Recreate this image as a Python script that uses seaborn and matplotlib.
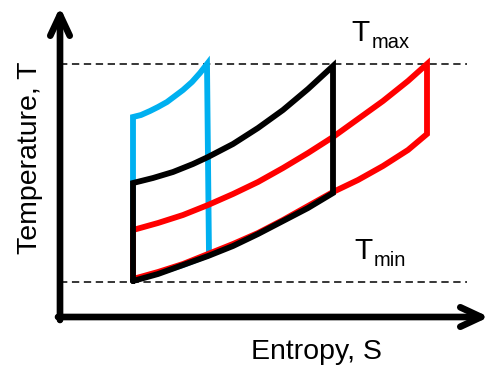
import matplotlib
matplotlib.use("Agg")
import matplotlib.pyplot as plt
import seaborn as sns

# Cycle outlines (entropy S, temperature T, arbitrary units)
blue_s = [133, 133, 141, 150, 158, 167, 175, 183, 192, 200, 207,
          209, 183, 158, 133]
blue_t = [89, 252, 254, 258, 262, 267, 273, 279, 287, 296, 305,
          114, 104, 96, 89]

black_s = [133, 133, 153, 173, 193, 208, 233, 258, 283, 308, 333,
           333, 308, 283, 258, 233, 208, 183, 158, 133]
black_t = [88, 186, 191, 197, 205, 212, 225, 241, 259, 280, 303,
           176, 161, 148, 135, 123, 113, 104, 95, 88]

red_s = [133, 133, 158, 183, 208, 233, 258, 283, 308, 333, 358, 383, 408, 427,
         427, 408, 383, 358, 333, 308, 283, 258, 233, 208, 183, 158, 133]
red_t = [90, 139, 146, 154, 164, 175, 187, 201, 216, 232, 250, 268, 288, 305,
         235, 219, 203, 189, 177, 163, 149, 136, 125, 115, 105, 97, 90]

t_max = 305
t_min = 87

sns.set_style("white")
plt.rcParams['font.family'] = ['Liberation Sans', 'DejaVu Sans']
plt.rcParams['text.color'] = 'black'

fig = plt.figure(figsize=(4.91, 3.69), dpi=100)
ax = fig.add_axes([0, 0, 1, 1])
ax.set_xlim(0, 491)
ax.set_ylim(0, 369)
ax.axis('off')

# reference temperature levels
ax.hlines([t_max, t_min], 60, 467, colors='black', linestyles=(0, (4.8, 3.0)), lw=1.1)

lw = 4.2
sns.lineplot(x=blue_s, y=blue_t, sort=False, estimator=None, color='#00b0f0', lw=lw, ax=ax)
sns.lineplot(x=red_s, y=red_t, sort=False, estimator=None, color='#ff0000', lw=lw, ax=ax)
sns.lineplot(x=black_s, y=black_t, sort=False, estimator=None, color='black', lw=lw, ax=ax)
for line in ax.lines:
    line.set_solid_joinstyle('miter')

# axes with arrows
arrow = dict(arrowstyle='->,head_length=1.5,head_width=0.7', lw=4.8, color='black',
             shrinkA=0, shrinkB=0, capstyle='round', joinstyle='round')
ax.annotate('', xy=(60, 362), xytext=(60, 49), arrowprops=arrow)
ax.annotate('', xy=(489, 52), xytext=(58, 52), arrowprops=arrow)

ax.text(30, 211, 'Temperature, T', rotation=90, ha='center', va='center', fontsize=20.5)
ax.text(316, 17, 'Entropy, S', ha='center', va='center', fontsize=20.5)
ax.text(351, 328, 'T', ha='left', va='baseline', fontsize=21.5)
ax.text(372, 321, 'max', ha='left', va='baseline', fontsize=14.5)
ax.text(354, 110, 'T', ha='left', va='baseline', fontsize=21.5)
ax.text(374, 103, 'min', ha='left', va='baseline', fontsize=14.5)

fig.savefig('out.png', dpi=100)
